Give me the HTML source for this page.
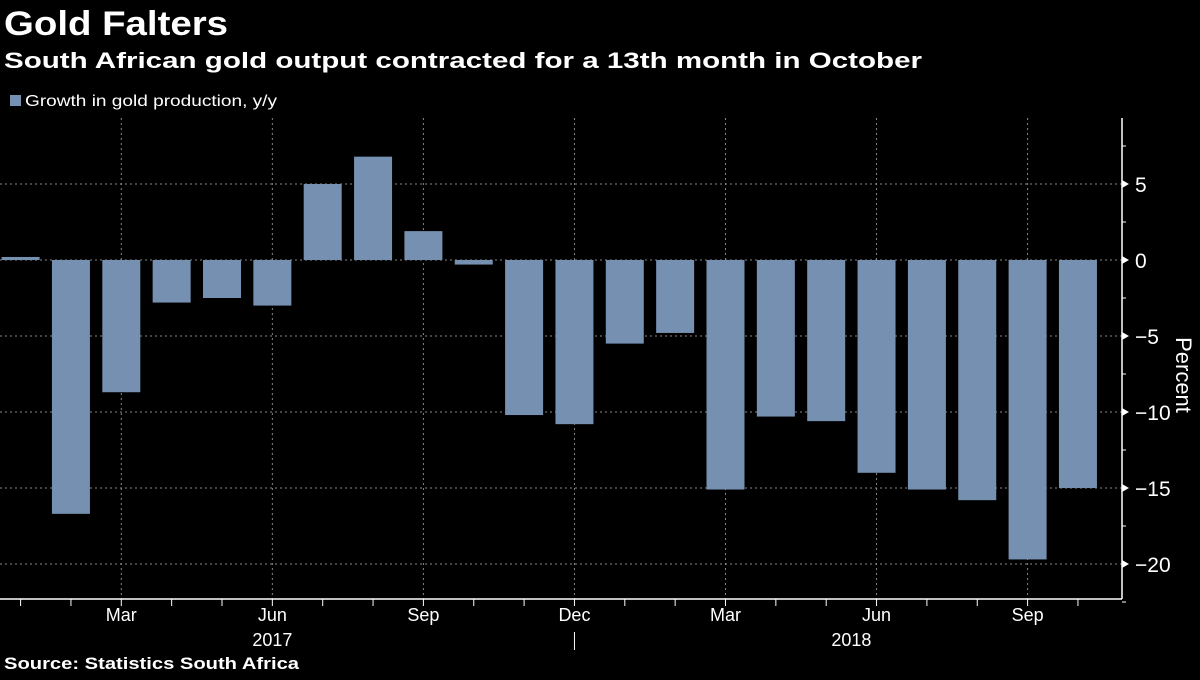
<!DOCTYPE html>
<html><head><meta charset="utf-8"><style>
body{margin:0;background:#000;width:1200px;height:675px;overflow:hidden;font-family:"Liberation Sans Narrow","Liberation Sans",sans-serif;color:#fff}
svg text{fill:#fff}
</style></head><body>
<svg width="1200" height="675" xmlns="http://www.w3.org/2000/svg" id="chart">
<text x="4" y="35" font-family="Liberation Sans" font-weight="bold" font-size="34" textLength="224" lengthAdjust="spacingAndGlyphs">Gold Falters</text>
<text x="4" y="68" font-family="Liberation Sans" font-weight="bold" font-size="22" textLength="918" lengthAdjust="spacingAndGlyphs">South African gold output contracted for a 13th month in October</text>
<rect x="10" y="95" width="11" height="11" fill="#7590b0"/>
<text x="25" y="106" font-size="16" textLength="252" lengthAdjust="spacingAndGlyphs">Growth in gold production, y/y</text>
<g id="grid"></g><g id="bars"></g><g id="axes"></g>
<text x="1176" y="375" font-size="22" transform="rotate(90 1176 375)" text-anchor="middle">Percent</text>
<text x="4" y="669" font-family="Liberation Sans" font-weight="bold" font-size="17" textLength="295" lengthAdjust="spacingAndGlyphs">Source: Statistics South Africa</text>
</svg>
<script>
const months=["Jan17","Feb17","Mar17","Apr17","May17","Jun17","Jul17","Aug17","Sep17","Oct17","Nov17","Dec17","Jan18","Feb18","Mar18","Apr18","May18","Jun18","Jul18","Aug18","Sep18","Oct18"];
const values=[0.2,-16.7,-8.7,-2.8,-2.5,-3.0,5.0,6.8,1.9,-0.3,-10.2,-10.8,-5.5,-4.8,-15.1,-10.3,-10.6,-14.0,-15.1,-15.8,-19.7,-15.0];
const monthLabels=[[2,"Mar"],[5,"Jun"],[8,"Sep"],[11,"Dec"],[14,"Mar"],[17,"Jun"],[20,"Sep"]];
const yTicks=[5,0,-5,-10,-15,-20];
const yearLabels=[[5,"2017"],[16.5,"2018"]];
const NS="http://www.w3.org/2000/svg";
const xs=i=>20.6+i*50.35, ys=v=>260-v*15.2;
const plotTop=118,plotBot=599,axisX=1122;
function mk(tag,attrs,parent){const e=document.createElementNS(NS,tag);for(const k in attrs)e.setAttribute(k,attrs[k]);document.getElementById(parent).appendChild(e);return e;}
yTicks.forEach(t=>{
 const g=mk("line",{x1:0,x2:axisX,y1:ys(t),y2:ys(t),stroke:"#888","stroke-dasharray":"2,3","stroke-width":1},"grid");
 
 
 const tx=mk("text",{x:axisX+13,y:ys(t)+8,"font-size":21},"axes");tx.textContent=(t<0?"\u2212":"")+Math.abs(t);
 
 
 mk("polygon",{points:`${axisX},${ys(t)-4} ${axisX+7},${ys(t)} ${axisX},${ys(t)+4}`,fill:"#fff"},"axes");
});
for(let v=7.5;v>=-22.5;v-=5){mk("line",{x1:axisX,x2:axisX+4,y1:ys(v),y2:ys(v),stroke:"#fff"},"axes");}
monthLabels.forEach(([i,l])=>{
 const g=mk("line",{x1:xs(i),x2:xs(i),y1:plotTop,y2:plotBot,stroke:"#888","stroke-dasharray":"2,3"},"grid");
 
 
 const t=mk("text",{x:xs(i),y:621,"font-size":18,"text-anchor":"middle"},"axes");t.textContent=l;
 
 
});
yearLabels.forEach(([i,l])=>{
 const t=mk("text",{x:xs(i),y:646,"font-size":18,"text-anchor":"middle"},"axes");t.textContent=l;
 
 
});
values.forEach((v,i)=>{
 const r=mk("rect",{x:xs(i)-19,width:38,y:Math.min(ys(v),ys(0)),height:Math.max(1,Math.abs(ys(v)-ys(0))),fill:"#7590b0"},"bars");
 
 
 mk("line",{x1:xs(i),x2:xs(i),y1:plotBot,y2:plotBot+7,stroke:"#fff"},"axes");
});
const sep=mk("line",{x1:xs(11),x2:xs(11),y1:632,y2:650,stroke:"#fff"},"axes");


mk("line",{x1:0,x2:axisX,y1:plotBot,y2:plotBot,stroke:"#fff","stroke-width":1.5},"axes");
mk("line",{x1:axisX,x2:axisX,y1:plotTop,y2:plotBot,stroke:"#fff","stroke-width":1.5},"axes");
</script>
</body></html>
